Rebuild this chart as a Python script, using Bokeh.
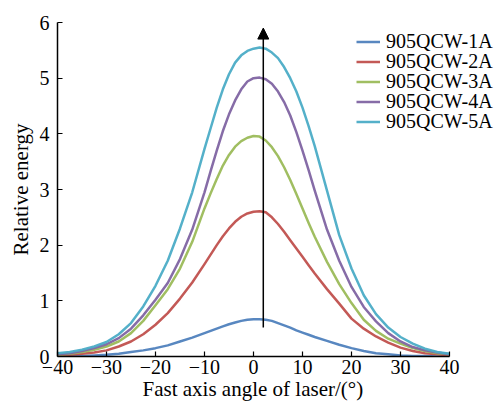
from bokeh.plotting import figure
from bokeh.models import Legend, LegendItem, Arrow, NormalHead, FixedTicker, Range1d, Title
from bokeh.embed import file_html
from bokeh.resources import INLINE

# Fast-axis far-field profile of a 905 nm QCW laser at five drive currents
angle = [-40, -37.5, -35, -32.5, -30, -27.5, -25, -22.5, -20, -17.5, -15, -12.5, -10,
         -8.75, -7.5, -6.25, -5, -3.75, -2.5, -1.25, 0, 1.25, 2.5, 3.75, 5, 6.25,
         7.5, 8.75, 10, 11.25, 12.5,
         15, 17.5, 20, 22.5, 25, 27.5, 30, 32.5, 35, 37.5, 40]

qcw_1a = [0.00, 0.01, 0.01, 0.02, 0.03, 0.05, 0.08, 0.11, 0.15, 0.20, 0.27, 0.34, 0.42,
          0.46, 0.50, 0.54, 0.58, 0.61, 0.64, 0.66, 0.67, 0.67, 0.66, 0.64, 0.60, 0.56,
          0.52, 0.47, 0.43, 0.39, 0.35,
          0.28, 0.21, 0.15, 0.10, 0.06, 0.04, 0.02, 0.01, 0.01, 0.00, 0.00]
qcw_2a = [0.02, 0.03, 0.05, 0.07, 0.11, 0.18, 0.27, 0.40, 0.57, 0.78, 1.04, 1.33, 1.66,
          1.83, 2.00, 2.16, 2.30, 2.42, 2.51, 2.57, 2.60, 2.61, 2.59, 2.50, 2.38, 2.24,
          2.09, 1.94, 1.79, 1.64, 1.49,
          1.21, 0.95, 0.68, 0.50, 0.36, 0.25, 0.16, 0.10, 0.06, 0.04, 0.02]
qcw_3a = [0.03, 0.05, 0.08, 0.12, 0.18, 0.27, 0.42, 0.64, 0.92, 1.21, 1.58, 2.06, 2.66,
          2.93, 3.19, 3.43, 3.62, 3.77, 3.87, 3.93, 3.96, 3.95, 3.88, 3.76, 3.60, 3.40,
          3.17, 2.92, 2.66, 2.40, 2.15,
          1.70, 1.30, 0.96, 0.66, 0.46, 0.32, 0.23, 0.15, 0.10, 0.06, 0.04]
qcw_4a = [0.04, 0.06, 0.10, 0.15, 0.22, 0.33, 0.50, 0.74, 1.02, 1.32, 1.75, 2.28, 2.95,
          3.33, 3.70, 4.05, 4.35, 4.60, 4.80, 4.94, 5.00, 5.01, 4.98, 4.90, 4.76, 4.57,
          4.33, 4.03, 3.70, 3.35, 2.98,
          2.28, 1.72, 1.25, 0.89, 0.63, 0.42, 0.27, 0.17, 0.11, 0.07, 0.04]
qcw_5a = [0.06, 0.08, 0.12, 0.18, 0.26, 0.40, 0.60, 0.90, 1.27, 1.72, 2.30, 2.95, 3.73,
          4.10, 4.47, 4.80, 5.07, 5.28, 5.41, 5.49, 5.53, 5.55, 5.53, 5.46, 5.36, 5.20,
          5.00, 4.76, 4.47, 4.14, 3.78,
          2.98, 2.18, 1.58, 1.10, 0.76, 0.52, 0.35, 0.23, 0.14, 0.08, 0.05]

series_names = ["905QCW-1A", "905QCW-2A", "905QCW-3A", "905QCW-4A", "905QCW-5A"]
series_values = [qcw_1a, qcw_2a, qcw_3a, qcw_4a, qcw_5a]
series_colors = ["#4F81BD", "#C0504D", "#9BBB59", "#8064A2", "#4BACC6"]

x_ticks = [-40, -30, -20, -10, 0, 10, 20, 30, 40]
x_tick_labels = ["\u221240", "\u221230", "\u221220", "\u221210", "0", "10", "20", "30", "40"]
y_ticks = [0, 1, 2, 3, 4, 5, 6]

x_title = "Fast axis angle of laser/(\u00b0)"
y_title = "Relative energy"

# vertical arrow marking the rise of the peak with drive current
arrow_x = 2.0
arrow_y_start = 0.52
arrow_y_end = 5.9

FONT = "'Liberation Serif', 'Times New Roman', serif"

# the frame runs on to the right edge so the legend has room;
# the x axis itself stops at 40
p = figure(width=503, height=404, output_backend="svg", toolbar_location=None,
           x_range=Range1d(-40, 50.41), y_range=Range1d(0, 6),
           min_border_left=57, min_border_right=3, min_border_top=22,
           min_border_bottom=48)
p.outline_line_color = None
p.xgrid.visible = False
p.ygrid.visible = False
p.background_fill_color = "white"
p.border_fill_color = "white"

renderers = []
for vals, col in zip(series_values, series_colors):
    renderers.append(p.line(angle, vals, line_color=col, line_width=2.5,
                            line_alpha=0.95, line_join="round"))

p.add_layout(Arrow(end=NormalHead(size=11, fill_color="black", line_color="black"),
                   x_start=arrow_x, y_start=arrow_y_start,
                   x_end=arrow_x, y_end=arrow_y_end,
                   line_color="black", line_width=1.5))

for ax in (p.xaxis[0], p.yaxis[0]):
    ax.axis_line_width = 1.5
    ax.axis_line_color = "black"
    ax.major_tick_in = 5
    ax.major_tick_out = 0
    ax.major_tick_line_width = 1.2
    ax.minor_tick_line_color = None
    ax.major_label_text_font = FONT
    ax.major_label_text_font_size = "20px"
    ax.major_label_text_color = "black"
    ax.axis_label_text_font = FONT
    ax.axis_label_text_font_size = "21px"
    ax.axis_label_text_font_style = "normal"
    ax.axis_label_text_color = "black"

p.xaxis.bounds = (-40, 40)
p.xaxis.ticker = FixedTicker(ticks=x_ticks)
p.xaxis.major_label_overrides = {t: s for t, s in zip(x_ticks, x_tick_labels)}
p.xaxis.major_label_standoff = 3

p.yaxis.ticker = FixedTicker(ticks=y_ticks)
p.yaxis.major_label_standoff = 8
p.yaxis.axis_label = y_title
p.yaxis.axis_label_standoff = 4

# x-axis title sits under the -40..40 span rather than the wider frame
p.add_layout(Title(text=x_title, align="left", offset=85, standoff=0,
                   vertical_align="top", text_font=FONT, text_font_size="21px",
                   text_font_style="normal", text_color="black"), "below")

# one legend per series so the rows can sit closer than the text box height
row_y0 = 303
row_step = 20
for k, (name, r) in enumerate(zip(series_names, renderers)):
    p.add_layout(Legend(items=[LegendItem(label=name, renderers=[r])],
                        location=(299, row_y0 - k * row_step),
                        label_text_font=FONT, label_text_font_size="20px",
                        label_text_color="black",
                        glyph_width=24, glyph_height=19, label_standoff=6,
                        label_height=19, spacing=0, padding=0, margin=0,
                        border_line_alpha=0, background_fill_alpha=0), "center")

open("out.html", "w").write(file_html(p, INLINE))
